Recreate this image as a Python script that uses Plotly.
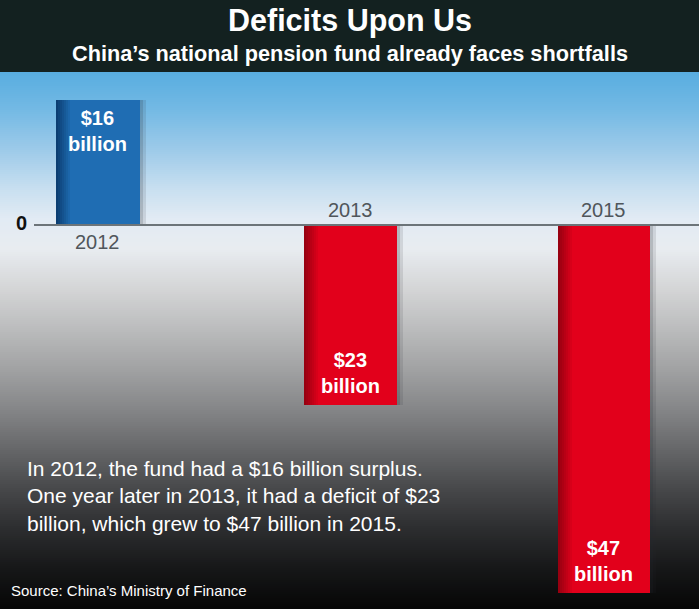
import plotly.graph_objects as go

# ---------------- data ----------------
years = ["2012", "2013", "2015"]
balance = [16, -23, -47]          # pension fund balance, billion USD
value_labels = ["$16<br>billion", "$23<br>billion", "$47<br>billion"]
bar_colors = ["#1f6db3", "#e2001b", "#e2001b"]
edge_colors = ["#0b3e72", "#980010", "#980010"]

title = "Deficits Upon Us"
subtitle = "China\u2019s national pension fund already faces shortfalls"
body = ("In 2012, the fund had a $16 billion surplus.<br>"
        "One year later in 2013, it had a deficit of $23<br>"
        "billion, which grew to $47 billion in 2015.")
source = "Source: China\u2019s Ministry of Finance"

# ---------------- layout constants ----------------
W, H = 699, 609
TOP = 73
PX_PER_CAT = 253.0
X0_PX = 97.5
PX_PER_UNIT = 7.82
ZERO_PX = 225.0
PLOT_H = H - TOP

x_range = [-X0_PX / PX_PER_CAT, (W - X0_PX) / PX_PER_CAT]
y_range = [-(H - ZERO_PX) / PX_PER_UNIT, (ZERO_PX - TOP) / PX_PER_UNIT]


def pxw(p):
    return p / PX_PER_CAT


def hex2rgb(h):
    h = h.lstrip("#")
    return tuple(int(h[i:i + 2], 16) for i in (0, 2, 4))


def mix(c1, c2, t):
    a, b = hex2rgb(c1), hex2rgb(c2)
    return "rgb(%d,%d,%d)" % tuple(round(a[i] + (b[i] - a[i]) * t) for i in range(3))


bar_w_px = [84, 93, 92]
bar_w = [pxw(p) for p in bar_w_px]
FONT = "Liberation Sans, Arial, sans-serif"

fig = go.Figure()

# soft shadow (two layers)
for sh, op in ((6, 0.12), (3, 0.16)):
    fig.add_trace(go.Bar(
        x=years, y=balance, width=bar_w,
        offset=[-w / 2 + pxw(sh) for w in bar_w],
        marker=dict(color="rgba(40,45,50,%.2f)" % op, line=dict(width=0)),
        hoverinfo="skip", showlegend=False))

# main bars
fig.add_trace(go.Bar(
    x=years, y=balance, width=bar_w,
    offset=[-w / 2 for w in bar_w],
    marker=dict(color=bar_colors, line=dict(width=0)),
    hoverinfo="skip", showlegend=False))

# dark left-edge shading strips
n_strips = 7
strip_px = 2
for k in range(n_strips):
    t = k / n_strips
    fig.add_trace(go.Bar(
        x=years, y=balance, width=[pxw(strip_px + 0.3)] * 3,
        offset=[-w / 2 + pxw(k * strip_px) for w in bar_w],
        marker=dict(color=[mix(e, c, t) for e, c in zip(edge_colors, bar_colors)],
                    line=dict(width=0)),
        hoverinfo="skip", showlegend=False))

# ---------------- background gradient ----------------
stops = [
    (73, "#58ade0"), (110, "#73b9e4"), (150, "#9ccae9"), (190, "#c8dff0"),
    (220, "#e2ebf4"), (250, "#e8ecf0"), (290, "#d4d5d6"), (330, "#bbbcbd"),
    (370, "#a1a2a3"), (410, "#858688"), (450, "#666769"), (490, "#47484a"),
    (530, "#2c2d2f"), (570, "#161718"), (609, "#060606"),
]
shapes = []
step = 2
y = TOP
while y < H:
    yc = y + step / 2
    for i in range(len(stops) - 1):
        if stops[i][0] <= yc <= stops[i + 1][0]:
            t = (yc - stops[i][0]) / (stops[i + 1][0] - stops[i][0])
            col = mix(stops[i][1], stops[i + 1][1], t)
            break
    shapes.append(dict(type="rect", xref="paper", yref="paper", layer="below",
                       x0=0, x1=1, y0=(H - y - step) / PLOT_H, y1=(H - y) / PLOT_H + 0.002,
                       fillcolor=col, line=dict(width=0)))
    y += step

# zero line
shapes.append(dict(type="line", xref="paper", yref="y", x0=34 / W, x1=1, y0=0, y1=0,
                   line=dict(color="#6c7479", width=2), layer="above"))

annotations = []
# value labels inside bars; category axis positions are the serial indices
for idx, (yr, v, lab) in enumerate(zip(years, balance, value_labels)):
    annotations.append(dict(
        x=idx, y=v, xref="x", yref="y", text="<b>%s</b>" % lab, showarrow=False,
        yanchor="top" if v > 0 else "bottom", yshift=-5 if v > 0 else 6,
        font=dict(family=FONT, size=20, color="white"), align="center"))
    annotations.append(dict(
        x=idx, y=0, xref="x", yref="y", text=yr, showarrow=False,
        yanchor="middle", yshift=-17 if v > 0 else 15,
        font=dict(family=FONT, size=20, color="#50565b")))

annotations.append(dict(x=21 / W, y=0, xref="paper", yref="y", text="<b>0</b>",
                        showarrow=False, xanchor="center", yanchor="middle", yshift=2,
                        font=dict(family=FONT, size=20, color="#111")))

annotations.append(dict(x=0.5, y=(H - 20) / PLOT_H, xref="paper", yref="paper",
                        text="<b>%s</b>" % title, showarrow=False, yanchor="middle",
                        font=dict(family=FONT, size=30.5, color="white")))
annotations.append(dict(x=0.5, y=(H - 53) / PLOT_H, xref="paper", yref="paper",
                        text="<b>%s</b>" % subtitle, showarrow=False, yanchor="middle",
                        font=dict(family=FONT, size=21.7, color="white")))
annotations.append(dict(x=25 / W, y=(H - 496) / PLOT_H, xref="paper", yref="paper",
                        text=body, showarrow=False, xanchor="left", yanchor="middle",
                        align="left", font=dict(family=FONT, size=21, color="white")))
annotations.append(dict(x=9 / W, y=(H - 590) / PLOT_H, xref="paper", yref="paper",
                        text=source, showarrow=False, xanchor="left", yanchor="middle",
                        align="left", font=dict(family=FONT, size=15, color="white")))

fig.update_layout(
    width=W, height=H,
    margin=dict(l=0, r=0, t=TOP, b=0, pad=0),
    paper_bgcolor="#132120", plot_bgcolor="#e8ecf0",
    barmode="overlay", bargap=0,
    showlegend=False,
    xaxis=dict(type="category", range=x_range, visible=False, fixedrange=True),
    yaxis=dict(range=y_range, visible=False, fixedrange=True),
    shapes=shapes, annotations=annotations,
)

fig.write_html("out.html", config={"displayModeBar": False})
